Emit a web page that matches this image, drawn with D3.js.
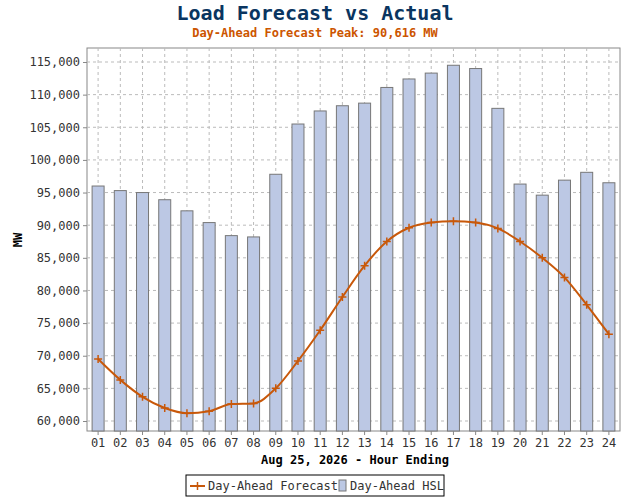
<!DOCTYPE html>
<html><head><meta charset="utf-8">
<script src="https://cdn.jsdelivr.net/npm/d3@7"></script>
<style>body{margin:0;background:#fff}text{font-family:"DejaVu Sans Mono",monospace}</style>
</head><body><svg width="630" height="500"></svg>
<script>
var hours = ["01","02","03","04","05","06","07","08","09","10","11","12","13","14","15","16","17","18","19","20","21","22","23","24"]
var hsl = [96000,95300,95000,93900,92200,90400,88400,88200,97800,105500,107500,108300,108700,111100,112400,113300,114500,114000,107900,96300,94600,96900,98100,96500]
var forecast = [69500,66300,63700,62000,61200,61500,62600,62700,65000,69200,73900,79000,83800,87500,89600,90400,90616,90400,89500,87500,85000,82000,77800,73300]
var yTicks = [60000,65000,70000,75000,80000,85000,90000,95000,100000,105000,110000,115000]

var svg = d3.select("svg")
var L = 87, R = 620, T = 48, B = 431
var x = d3.scaleBand().domain(hours).range([L, R])
var y = d3.scaleLinear().domain([58468, 117145]).range([B, T])
var fmt = d3.format(",")

svg.append("rect").attr("x", L).attr("y", T).attr("width", R-L).attr("height", B-T)
    .attr("fill", "#fff").attr("stroke", "#888")

// grid
svg.selectAll(".gy").data(yTicks).enter().append("line")
    .attr("x1", L).attr("x2", R).attr("y1", d => y(d)).attr("y2", d => y(d))
    .attr("stroke", "#bbb").attr("stroke-dasharray", "3,3")
svg.selectAll(".gx").data(hours).enter().append("line")
    .attr("y1", T).attr("y2", B).attr("x1", d => x(d)+x.bandwidth()/2).attr("x2", d => x(d)+x.bandwidth()/2)
    .attr("stroke", "#bbb").attr("stroke-dasharray", "3,3")

// bars
svg.selectAll(".bar").data(hsl).enter().append("rect")
    .attr("x", (d,i) => x(hours[i]) + x.bandwidth()/2 - 6)
    .attr("width", 12)
    .attr("y", d => y(d)).attr("height", d => B - y(d))
    .attr("fill", "#bcc8e4").attr("stroke", "#777")

// line
var line = d3.line().x((d,i) => x(hours[i]) + x.bandwidth()/2).y(d => y(d)).curve(d3.curveMonotoneX)
svg.append("path").datum(forecast).attr("d", line).attr("fill", "none").attr("stroke", "#c8580a").attr("stroke-width", 2)
svg.selectAll(".mk").data(forecast).enter().append("path")
    .attr("d", (d,i) => { var cx = x(hours[i]) + x.bandwidth()/2, cy = y(d); return "M"+(cx-4)+","+cy+"H"+(cx+4)+"M"+cx+","+(cy-4)+"V"+(cy+4) })
    .attr("stroke", "#c8580a").attr("stroke-width", 1.5)

// axes
var ya = svg.append("g").attr("transform", "translate("+L+",0)").call(d3.axisLeft(y).tickValues(yTicks).tickFormat(fmt).tickSize(4))
var xa = svg.append("g").attr("transform", "translate(0,"+B+")").call(d3.axisBottom(x).tickSize(4))
svg.selectAll(".domain").remove()
svg.selectAll(".tick line").attr("stroke", "#888")
svg.selectAll(".tick text").style("font-family", "DejaVu Sans Mono").style("font-size", "12px").attr("fill", "#333")

svg.append("text").attr("x", 315).attr("y", 20).attr("text-anchor", "middle")
    .style("font-size", "20px").style("font-weight", "bold").attr("fill", "#0a3560").text("Load Forecast vs Actual")
svg.append("text").attr("x", 315).attr("y", 37).attr("text-anchor", "middle")
    .style("font-size", "12px").style("font-weight", "bold").attr("fill", "#cc5500").text("Day-Ahead Forecast Peak:  90,616 MW")
svg.append("text").attr("x", 355).attr("y", 464).attr("text-anchor", "middle")
    .style("font-size", "12px").style("font-weight", "bold").text("Aug 25, 2026 - Hour Ending")
svg.append("text").attr("transform", "translate(22,240) rotate(-90)").attr("text-anchor", "middle")
    .style("font-size", "12px").style("font-weight", "bold").text("MW")

// legend
var lg = svg.append("g")
lg.append("rect").attr("x", 186).attr("y", 475).attr("width", 258).attr("height", 21).attr("fill", "#fff").attr("stroke", "#000")
lg.append("line").attr("x1", 190).attr("x2", 205).attr("y1", 486).attr("y2", 486).attr("stroke", "#c8580a").attr("stroke-width", 2)
lg.append("path").attr("d", "M197.5,482V490").attr("stroke", "#c8580a").attr("stroke-width", 1.5)
lg.append("text").attr("x", 208).attr("y", 490).style("font-size", "12px").attr("fill", "#333").text("Day-Ahead Forecast")
lg.append("rect").attr("x", 339).attr("y", 480).attr("width", 7).attr("height", 11).attr("fill", "#bcc8e4").attr("stroke", "#777")
lg.append("text").attr("x", 350).attr("y", 490).style("font-size", "12px").attr("fill", "#333").text("Day-Ahead HSL")
</script></body></html>
